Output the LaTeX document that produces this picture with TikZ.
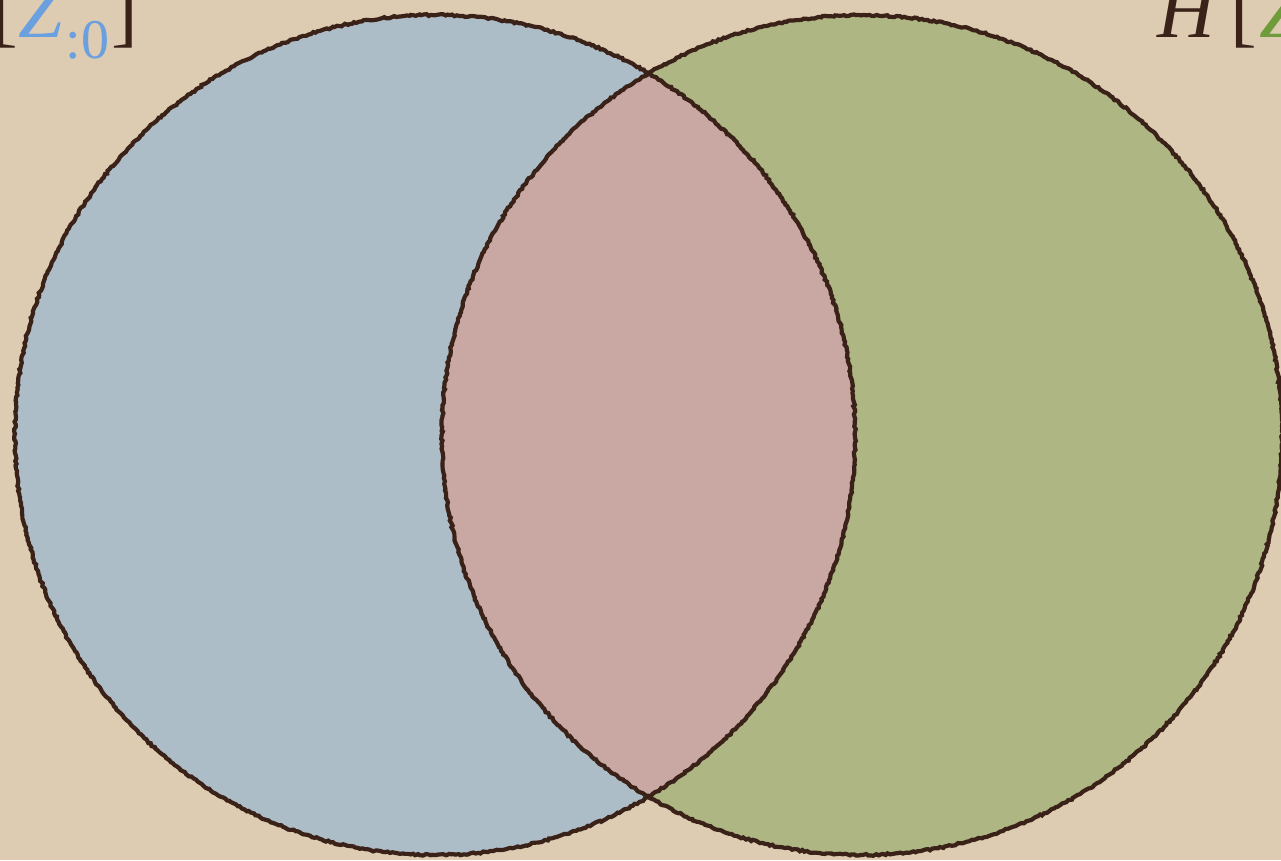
\documentclass[tikz,border=0pt]{standalone}
\usepackage{fontspec}
\setmainfont{Liberation Serif}
\usetikzlibrary{decorations.pathmorphing}
\definecolor{bg}{HTML}{DECCB2}
\definecolor{blueA}{HTML}{ADBDC8}
\definecolor{pinkA}{HTML}{C9A7A2}
\definecolor{greenA}{HTML}{AEB684}
\definecolor{ink}{HTML}{3A2218}
\definecolor{zblue}{HTML}{6A9FE0}
\definecolor{zgreen}{HTML}{6E9C3A}
\tikzset{
  rough/.style={draw=ink, line width=4.2pt, decorate, decoration={random steps, segment length=2.5pt, amplitude=0.9pt}},
  lbl/.style={inner sep=0pt, anchor=base east, font=\fontsize{80}{80}\selectfont, text=ink}
}
\begin{document}
\begin{tikzpicture}[x=1pt,y=-1pt]
\fill[bg] (0,0) rectangle (1281,860);
\useasboundingbox (0,0) rectangle (1281,860);
\coordinate (cl) at (435,435);
\coordinate (cr) at (862,435);
\fill[blueA] (cl) circle (420);
\fill[greenA] (cr) circle (420);
\begin{scope}
  \clip (cl) circle (420);
  \fill[pinkA] (cr) circle (420);
\end{scope}
\draw[rough] (cl) circle (420);
\draw[rough] (cr) circle (420);
\node[lbl] (tl) at (138,37) {[\textcolor{zblue}{\textit{Z}\kern2pt\raisebox{-21pt}{\fontsize{56}{56}\selectfont :0}}\kern2pt]};
\node[lbl, anchor=base west] (tr) at (1157,37) {\textit{H}\kern12pt[\kern2pt\textcolor{zgreen}{\textit{Z}}};
\end{tikzpicture}
\end{document}
